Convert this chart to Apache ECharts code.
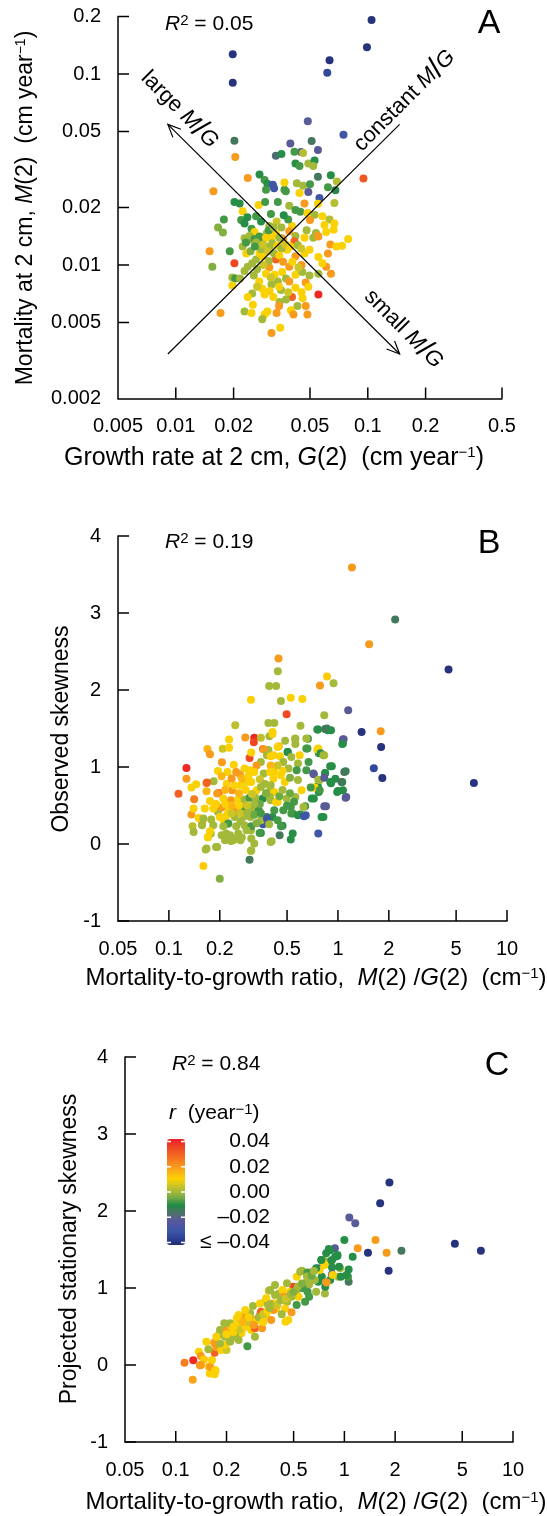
<!DOCTYPE html>
<html><head><meta charset="utf-8">
<script src="https://cdn.jsdelivr.net/npm/echarts@6.0.0/dist/echarts.min.js"></script>
<style>html,body{margin:0;padding:0;background:#fff}#chart{width:547px;height:1516px}</style>
</head><body><div id="chart"></div>
<script>
// ---------- DATA ----------
// Panel A: [G(2) growth rate, M(2) mortality, r]
const pointsA = [
[0.1046,0.192,-0.04],[0.099,0.138,-0.04],[0.0198,0.127,-0.04],[0.0198,0.090,-0.04],[0.0632,0.118,-0.04],
[0.0615,0.1016,-0.035],[0.0487,0.0565,-0.022],[0.0747,0.0481,-0.03],[0.0949,0.0284,0.032],
[0.0202,0.0447,-0.015],[0.0395,0.0433,-0.022],[0.0449,0.039,-0.022],[0.055,0.040,-0.022],[0.051,0.0446,-0.015],
[0.0332,0.0373,-0.018],[0.0355,0.0381,-0.01],[0.0415,0.0392,-0.008],[0.046,0.0386,0.002],[0.0204,0.0368,0.02],
[0.0237,0.0285,0.02],[0.0157,0.0243,0.02],[0.0273,0.0298,-0.01],[0.029,0.0279,-0.008],[0.030,0.0266,-0.01],
[0.032,0.0263,-0.03],[0.0325,0.0252,-0.03],[0.0295,0.0248,-0.008],[0.0368,0.0248,-0.008],[0.0374,0.0243,-0.008],
[0.042,0.034,-0.01],[0.0441,0.033,-0.008],[0.049,0.034,0.0],[0.0528,0.0352,-0.01],[0.052,0.033,0.0],
[0.0427,0.0268,0.0],[0.046,0.026,0.0],[0.050,0.0265,-0.008],[0.055,0.029,-0.015],[0.0642,0.0295,-0.01],
[0.069,0.0274,0.002],[0.062,0.0255,-0.008],[0.0678,0.0246,-0.012],[0.0368,0.027,0.01],[0.0441,0.0238,0.01],
[0.0468,0.021,0.02],[0.049,0.0241,-0.022],[0.056,0.0224,-0.03],[0.055,0.0209,0.01],[0.067,0.0211,0.002],
[0.027,0.0206,0.01],[0.0223,0.0191,0.01],[0.0202,0.0214,-0.01],[0.0215,0.021,-0.01],[0.0292,0.0214,-0.008],
[0.034,0.0214,-0.008],[0.039,0.0204,0.0],[0.042,0.0194,-0.008],[0.0445,0.019,-0.008],[0.0485,0.0187,0.01],
[0.0528,0.0183,0.0],[0.050,0.0172,0.02],[0.058,0.018,0.01],[0.0632,0.0173,0.002],[0.0595,0.0162,0.01],
[0.067,0.0165,0.01],[0.0178,0.0173,-0.008],[0.0166,0.0157,-0.003],[0.0176,0.0148,-0.003],[0.0219,0.0172,-0.008],
[0.0228,0.0165,-0.01],[0.0248,0.0155,-0.008],[0.0278,0.0169,-0.01],[0.0307,0.016,0.0],[0.0335,0.0169,0.005],
[0.0355,0.0157,0.0],[0.0403,0.016,0.01],[0.042,0.0142,0.0],[0.039,0.015,0.02],[0.048,0.0152,0.0],
[0.0537,0.0147,0.0],[0.0607,0.0149,0.01],[0.0664,0.0153,0.01],[0.0257,0.0149,0.01],[0.0298,0.0147,0.0],
[0.0332,0.0146,0.01],[0.0242,0.0142,0.0],[0.0273,0.0141,-0.008],[0.0358,0.0138,0.02],[0.055,0.0142,0.02],
[0.015,0.0118,0.02],[0.0191,0.0118,-0.008],[0.0155,0.0098,-0.003],[0.0202,0.0102,0.035],[0.0197,0.0086,0.0],
[0.0204,0.0085,-0.008],[0.0216,0.0085,0.0],[0.0197,0.0078,0.01],[0.0228,0.0093,0.0],[0.0237,0.0098,0.0],
[0.025,0.0102,0.0],[0.0262,0.0107,0.0],[0.0273,0.0115,0.01],[0.0284,0.0111,0.01],[0.0278,0.0121,0.0],
[0.0308,0.0125,0.0],[0.0223,0.0125,0.0],[0.0242,0.0135,0.0],[0.0257,0.0137,-0.008],[0.0273,0.0135,-0.008],
[0.0295,0.0139,0.01],[0.0233,0.0115,0.01],[0.0307,0.0097,0.02],[0.0332,0.0107,0.03],[0.0363,0.0135,0.02],
[0.0415,0.0133,0.03],[0.038,0.012,0.01],[0.042,0.0111,0.02],[0.0468,0.0115,0.01],[0.0497,0.012,0.01],
[0.0452,0.010,0.02],[0.039,0.0098,0.02],[0.0358,0.0092,0.01],[0.0327,0.0089,0.01],[0.0315,0.0079,0.0],
[0.034,0.0082,0.0],[0.0375,0.0085,0.0],[0.039,0.0082,0.02],[0.042,0.0089,0.01],[0.0456,0.0092,0.0],
[0.0497,0.0088,0.0],[0.0553,0.009,0.0],[0.0607,0.0098,0.02],[0.0643,0.009,0.02],[0.062,0.0115,0.02],
[0.0553,0.011,0.01],[0.058,0.0102,0.01],[0.0553,0.007,0.04],[0.0475,0.0081,0.02],[0.049,0.0077,0.01],
[0.042,0.0076,0.01],[0.0403,0.0068,0.03],[0.0452,0.0072,0.01],[0.0458,0.0067,0.01],[0.0375,0.0066,0.0],
[0.0347,0.0064,0.0],[0.0353,0.0074,0.0],[0.0322,0.0068,0.01],[0.029,0.007,0.01],[0.0282,0.0075,0.01],
[0.0308,0.0073,0.01],[0.025,0.0071,0.0],[0.0237,0.0068,0.01],[0.0252,0.0062,0.01],[0.0345,0.0061,0.02],
[0.043,0.0061,0.0],[0.0475,0.0061,0.02],[0.0228,0.0057,0.0],[0.0248,0.0056,0.01],[0.029,0.0055,0.01],
[0.030,0.0057,0.01],[0.0335,0.0056,0.02],[0.0398,0.0058,0.01],[0.041,0.0055,0.02],[0.0485,0.0055,0.02],
[0.0282,0.0052,0.0],[0.0171,0.0056,0.02],[0.035,0.0047,0.01],[0.0315,0.0044,0.02],[0.079,0.0137,0.01],
[0.0735,0.0126,0.01],[0.0228,0.0138,0.0],[0.0316,0.014,0.01],[0.0346,0.0139,0.0],[0.0468,0.0139,0.01],
[0.052,0.0139,0.0],[0.0553,0.0141,0.02],[0.0638,0.0128,0.02],[0.0686,0.0125,0.01],
[0.0262,0.0131,0.0],[0.0285,0.0128,0.005],[0.0318,0.0130,0.0],[0.0338,0.0126,0.01],[0.0355,0.0122,0.0],
[0.0372,0.0128,0.005],[0.0395,0.0125,0.01],[0.0432,0.0127,0.0],[0.045,0.0122,0.005],[0.0302,0.0118,0.005],
[0.0325,0.0115,0.0],[0.0346,0.0112,0.01],[0.0305,0.0105,0.0],[0.0285,0.0100,0.005],[0.0265,0.0095,0.0],
[0.0295,0.0090,0.01],[0.0312,0.0086,0.005],[0.0362,0.0104,0.02],[0.0405,0.0104,0.01],[0.0435,0.0097,0.005],
[0.0255,0.0088,0.0],[0.0272,0.0082,0.01],[0.0345,0.0077,0.01],[0.0385,0.0072,0.005],[0.0265,0.0077,0.005],
[0.0245,0.0118,-0.003],[0.0258,0.0125,-0.008],[0.0232,0.0131,-0.008],[0.0305,0.0152,-0.008],[0.0323,0.0157,0.0],
[0.0385,0.0173,-0.008],[0.0365,0.0182,-0.01],[0.0313,0.0185,-0.008],[0.0262,0.0180,-0.008],[0.0236,0.0178,-0.01]
];
// Panel B: [M(2)/G(2), observed skewness, r]
const pointsB = [
[1.21,3.59,0.02],[2.18,2.914,-0.015],[1.53,2.594,0.02],[4.51,2.265,-0.04],[6.37,0.792,-0.04],
[0.445,2.41,0.02],[0.441,2.243,0.0],[0.392,2.052,0.0],[0.431,2.052,0.0],[0.46,1.857,0.0],
[0.306,1.875,0.01],[0.526,1.90,0.01],[0.616,1.883,0.01],[0.783,2.057,0.02],[0.862,2.174,0.012],
[0.942,2.087,0.0],[0.497,1.684,0.035],[1.15,1.736,-0.022],[0.83,1.671,0.0],[0.60,1.537,0.0],
[0.388,1.571,0.0],[0.42,1.571,0.0],[0.247,1.541,0.003],[1.38,1.455,-0.04],[1.79,1.464,0.02],
[1.8,1.26,-0.04],[1.63,0.983,-0.035],[1.83,0.857,-0.04],[1.08,1.36,-0.022],[1.07,1.304,-0.01],
[0.762,1.486,-0.01],[0.84,1.494,-0.015],[0.87,1.477,-0.01],[1.11,0.944,-0.012],[1.12,0.61,-0.022],
[0.83,0.49,-0.022],[0.765,0.135,-0.03],[0.80,0.35,-0.01],[0.99,0.675,-0.01],[1.06,0.805,-0.01],
[0.9,1.01,-0.01],[0.452,0.113,-0.015],[0.526,0.057,-0.01],[0.54,0.135,-0.01],[0.405,0.035,0.0],
[0.35,0.143,-0.01],[0.30,-0.203,-0.015],[0.20,-0.45,-0.003],[0.16,-0.286,0.012],[0.165,-0.073,0.0],
[0.193,-0.04,0.0],[0.306,-0.09,0.003],[0.17,0.083,0.01],[0.114,0.654,0.03],[0.127,0.987,0.04],
[0.127,0.849,0.02],[0.136,0.733,0.01],[0.145,0.775,0.01],[0.141,0.58,0.025],[0.136,0.382,0.02],
[0.138,0.23,0.003],[0.14,0.156,0.0],[0.14,0.46,0.01],[0.159,0.317,0.01],[0.157,0.265,0.02],
[0.169,1.234,0.015],[0.175,1.165,0.02],[0.167,0.792,0.025],[0.167,0.684,0.015],[0.184,0.814,0.0],
[0.208,1.238,0.005],[0.227,1.25,0.01],[0.227,1.356,0.01],[0.206,1.061,0.02],[0.195,0.948,0.01],
[0.197,0.662,0.03],[0.283,1.382,0.02],[0.32,1.38,0.04],[0.318,1.32,0.035],[0.30,1.117,0.035],
[0.36,1.234,0.025],[0.447,1.27,0.015],[0.35,1.38,0.003],[0.41,1.455,0.01],[0.393,1.40,0.0],
[0.388,1.22,0.0],[0.487,1.34,0.0],[0.558,1.363,0.0],[0.665,1.368,-0.008],[0.503,1.195,-0.01],
[0.66,1.24,-0.008],[0.765,1.24,0.01],[0.77,1.18,-0.008],[0.83,1.152,0.003],[0.84,0.922,-0.008],
[0.72,0.905,-0.022],[0.91,0.79,-0.01],[0.76,0.75,-0.01],[0.77,0.675,-0.01],[0.71,0.733,0.01],
[0.78,0.83,0.0],[0.72,0.59,-0.01],[0.64,0.49,-0.008],[0.645,0.373,-0.03],[0.60,0.386,-0.008],
[0.54,0.395,-0.008],[0.526,0.48,-0.008],[0.47,0.238,-0.01],[0.41,0.35,-0.01],[0.36,0.256,-0.03],
[0.306,0.178,0.0],[0.32,0.005,0.0],[0.265,0.048,0.0],[0.233,0.039,0.0],[0.25,0.07,0.0],
[0.218,0.135,0.0],[0.225,0.265,0.0],[0.177,0.135,0.0],[0.195,0.416,0.0],[0.21,0.317,0.01],
[0.307,1.187,0.01],[0.364,1.226,0.02],[0.38,1.152,0.0],[0.415,1.152,0.01],[0.35,1.065,0.0],
[0.40,1.02,0.015],[0.168,0.80,0.03],[0.222,0.935,0.01],[0.242,1.03,0.01],[0.25,0.935,0.02],
[0.263,0.905,0.02],[0.28,0.98,0.01],[0.301,0.957,0.01],[0.33,1.02,0.02],[0.32,0.935,0.01],
[0.364,0.914,0.0],[0.396,0.935,0.01],[0.415,0.849,0.01],[0.22,0.784,0.01],[0.237,0.697,0.02],
[0.267,0.762,0.01],[0.29,0.805,0.01],[0.307,0.805,0.01],[0.33,0.697,0.01],[0.35,0.74,0.0],
[0.39,0.675,0.0],[0.42,0.675,0.01],[0.175,0.558,0.01],[0.193,0.655,0.02],[0.21,0.59,0.01],
[0.233,0.568,0.02],[0.257,0.577,0.01],[0.28,0.577,0.0],[0.30,0.602,-0.008],[0.325,0.602,0.0],
[0.36,0.59,-0.01],[0.40,0.568,0.0],[0.43,0.545,0.01],[0.163,0.46,0.01],[0.183,0.46,0.01],
[0.205,0.473,0.02],[0.226,0.437,0.01],[0.248,0.446,0.02],[0.275,0.473,-0.008],[0.307,0.46,0.0],
[0.34,0.437,-0.008],[0.15,0.338,0.01],[0.16,0.33,0.0],[0.178,0.317,0.0],[0.20,0.35,0.01],
[0.22,0.373,0.01],[0.245,0.35,0.0],[0.275,0.35,0.0],[0.304,0.35,0.0],[0.38,0.35,-0.015],
[0.35,0.308,0.0],[0.157,0.243,0.0],[0.183,0.243,0.0],[0.224,0.265,-0.008],[0.25,0.23,0.0],
[0.28,0.243,0.0],[0.307,0.23,-0.008],[0.175,0.165,0.01],[0.205,0.113,0.0],[0.23,0.113,0.0],
[0.257,0.135,0.0],[0.288,0.178,0.0],[0.344,0.143,-0.008],[0.17,0.09,0.01],[0.215,0.048,0.0],
[0.24,0.048,0.0],[0.27,0.083,0.0],[0.307,0.07,0.0],[0.40,0.026,0.0],[0.167,-0.06,0.0],
[0.19,-0.04,0.0],[0.307,-0.08,0.0],[0.755,1.486,-0.01],[0.86,1.50,-0.015],[0.91,1.477,-0.01],
[1.07,1.356,-0.022],[1.06,1.30,-0.01],[0.41,1.43,0.01],[0.56,1.37,0.0],[0.65,1.37,0.0],
[0.56,1.30,0.0],[0.755,1.226,0.01],[0.79,1.18,-0.01],[0.82,1.152,0.0],[0.65,1.24,-0.008],
[0.505,1.195,-0.01],[0.44,1.26,0.01],[0.594,1.152,0.01],[0.53,1.13,0.0],[0.454,1.14,0.01],
[0.40,1.14,0.01],[0.475,1.065,0.0],[0.58,1.044,0.0],[0.67,1.065,-0.008],[0.92,1.01,-0.01],
[1.09,0.935,-0.015],[0.42,0.935,0.01],[0.46,0.892,0.01],[0.51,0.98,0.0],[0.57,0.957,-0.008],
[0.65,0.957,-0.008],[0.715,0.914,-0.022],[0.765,0.836,0.0],[0.84,0.922,-0.01],[0.83,0.862,-0.022],
[0.90,0.805,-0.01],[0.965,0.849,-0.01],[1.05,0.805,-0.015],[1.0,0.688,-0.01],[1.07,0.697,-0.01],
[1.11,0.60,-0.022],[0.73,0.733,0.01],[0.69,0.733,-0.008],[0.61,0.697,0.01],[0.58,0.83,0.0],
[0.485,0.805,0.01],[0.40,0.762,0.0],[0.396,0.61,0.0],[0.44,0.545,0.01],[0.497,0.59,0.0],
[0.56,0.61,0.0],[0.625,0.48,0.0],[0.70,0.59,-0.01],[0.78,0.697,-0.008],[0.85,0.49,-0.022],
[0.42,0.437,-0.008],[0.475,0.437,-0.008],[0.53,0.395,-0.008],[0.58,0.373,-0.01],[0.63,0.36,-0.03],
[0.82,0.35,-0.01],[0.38,0.33,-0.03],[0.44,0.308,-0.008],[0.392,0.256,0.0],[0.46,0.23,-0.008],
[0.215,0.70,0.015],[0.245,0.76,0.01],[0.26,0.66,0.015],[0.285,0.70,0.01],[0.31,0.65,0.005],
[0.27,0.85,0.015],[0.295,0.88,0.01],[0.235,0.85,0.02],[0.205,0.88,0.015],[0.345,0.84,0.005],
[0.37,0.78,0.0],[0.375,0.66,-0.003],[0.345,0.52,-0.005],[0.32,0.52,0.0],[0.29,0.50,0.005],
[0.26,0.50,0.01],[0.235,0.50,0.015],[0.215,0.52,0.01],[0.19,0.52,0.01],[0.265,0.40,0.005],
[0.29,0.40,0.0],[0.32,0.38,-0.005],[0.35,0.40,-0.008],[0.235,0.40,0.005],[0.21,0.23,0.0],
[0.265,0.29,0.0],[0.33,0.27,-0.003],[0.45,0.62,-0.005],[0.47,0.70,0.0],[0.52,0.66,-0.005],
[0.55,0.55,-0.008],[0.50,0.50,-0.008],[0.47,0.95,0.01],[0.44,1.02,0.005],[0.52,0.86,-0.003]
];
// Panel C: [M(2)/G(2), projected stationary skewness, r]
const pointsC = [
[1.85,2.37,-0.04],[1.63,2.10,-0.04],[1.07,1.914,-0.022],[1.16,1.84,-0.022],[1.0,1.624,-0.01],
[1.53,1.624,0.02],[1.2,1.515,0.02],[1.38,1.459,-0.04],[1.78,1.459,0.02],[2.18,1.485,-0.015],
[1.83,1.225,-0.04],[4.52,1.576,-0.04],[6.45,1.485,-0.04],[0.878,1.515,-0.022],[0.824,1.49,-0.01],
[1.12,1.407,-0.01],[0.908,1.415,-0.01],[1.06,1.24,-0.01],[1.06,1.08,-0.015],[1.05,1.147,-0.008],
[0.767,0.93,0.0],[0.266,0.245,-0.008],[0.126,-0.19,0.018],[0.1127,0.028,0.025],[0.127,0.063,0.04],
[0.139,-0.0025,0.02],[0.157,-0.024,0.01],[0.172,-0.076,0.01],[0.159,-0.11,0.01],[0.17,-0.12,0.01],
[0.448,0.561,0.01],[0.498,1.016,0.035],[0.522,1.147,0.01],
[0.137,0.172,0.01],[0.141,0.116,0.02],[0.147,0.072,0.012],[0.141,0.0,0.02],[0.16,-0.023,0.02],
[0.164,0.064,0.01],[0.171,-0.066,0.01],[0.152,0.302,0.01],[0.169,0.289,0.02],[0.17,0.159,0.03],
[0.174,0.229,0.02],[0.186,0.194,0.01],[0.2,0.194,0.005],[0.196,0.259,0.01],[0.183,0.28,0.0],
[0.21,0.302,0.0],[0.196,0.367,0.0],[0.18,0.389,0.0],[0.214,0.346,0.0],[0.183,0.454,0.0],
[0.2,0.454,0.02],[0.194,0.541,0.0],[0.214,0.497,0.01],[0.233,0.519,0.01],[0.245,0.411,0.01],
[0.225,0.389,0.0],[0.255,0.627,0.02],[0.23,0.606,0.01],[0.263,0.541,0.01],[0.28,0.454,0.01],
[0.287,0.584,0.02],[0.295,0.476,0.03],[0.276,0.671,0.0],[0.295,0.367,0.0],[0.325,0.476,0.02],
[0.316,0.649,0.03],[0.32,0.692,0.03],[0.344,0.627,0.01],[0.368,0.584,0.02],[0.374,0.80,0.02],
[0.395,0.735,0.01],[0.353,0.779,0.0],[0.339,0.822,0.0],[0.388,1.04,0.0],[0.356,0.965,0.005],
[0.41,0.93,0.0],[0.287,0.766,0.0],[0.258,0.714,0.01],[0.236,0.649,0.01],[0.21,0.541,0.0],
[0.174,0.367,0.01],[0.156,0.203,0.0],[0.25,0.476,0.01],[0.236,0.324,0.0],
[0.808,1.507,-0.01],[0.78,1.45,-0.01],[0.91,1.43,-0.01],[0.882,1.407,-0.01],[0.73,1.364,-0.01],
[0.765,1.35,0.0],[0.834,1.35,-0.01],[0.703,1.256,-0.022],[0.765,1.30,0.01],[0.845,1.266,-0.01],
[0.944,1.256,0.0],[1.03,1.17,-0.01],[0.845,1.178,-0.022],[0.92,1.147,0.0],[0.735,1.147,-0.01],
[0.78,1.074,0.02],[0.824,1.104,-0.01],[0.70,1.082,-0.01],[0.77,1.017,-0.01],[0.646,1.212,0.0],
[0.667,1.104,0.0],[0.618,1.047,0.0],[0.68,0.952,0.0],[0.605,0.952,-0.008],[0.605,1.104,0.0],
[0.547,1.212,0.0],[0.457,1.061,0.0],[0.43,0.974,0.01],[0.477,0.952,0.01],[0.521,0.974,0.0],
[0.566,0.996,-0.008],[0.618,0.887,-0.008],[0.535,0.887,0.01],[0.486,0.887,0.0],[0.442,0.887,0.02],
[0.388,0.909,0.0],[0.363,0.974,0.0],[0.344,0.866,0.01],[0.388,0.80,0.01],[0.457,0.822,0.0],
[0.521,0.779,-0.008],[0.585,0.822,-0.008],[0.316,0.80,0.01],[0.363,0.788,0.0],[0.38,0.714,0.02],
[0.445,0.735,0.01],[0.425,0.658,0.0],[0.486,0.684,0.02],[0.465,0.584,0.01],
[0.714,1.233,0.01],[0.76,1.307,0.01],[0.853,1.168,0.01],[0.786,1.07,0.02],[0.68,1.255,-0.01],
[0.845,1.363,-0.01],[0.73,1.363,-0.01],[0.93,1.277,-0.01],[0.953,1.147,-0.01],[0.56,1.225,0.0],
[0.603,1.2,-0.008],
[0.22,0.43,0.01],[0.24,0.46,0.005],[0.26,0.50,0.01],[0.27,0.56,0.005],[0.30,0.57,0.01],
[0.31,0.62,0.0],[0.33,0.66,0.005],[0.35,0.70,0.01],[0.36,0.74,0.0],[0.40,0.78,0.005],
[0.42,0.84,0.0],[0.45,0.86,0.005],[0.48,0.92,0.0],[0.50,0.95,-0.003],[0.53,1.02,0.0],
[0.56,1.06,-0.003],[0.60,1.15,0.0],[0.64,1.16,-0.005],[0.66,1.22,0.0],[0.27,0.62,0.01],
[0.29,0.52,0.02],[0.33,0.56,0.01],[0.25,0.56,0.015],[0.22,0.50,0.01],[0.2,0.40,0.01]
];
const xTicksA = [0.005,0.01,0.02,0.05,0.1,0.2,0.5];
const yTicksA = [0.002,0.005,0.01,0.02,0.05,0.1,0.2];
const xTicksBC = [0.05,0.1,0.2,0.5,1,2,5,10];
// guide lines in panel A: [x1,y1,x2,y2,arrows]
const guideLines = [[0.00909,0.00342,0.1465,0.0545,0],[0.00909,0.0545,0.1465,0.00342,1]];
const rLegendValues = [0.04,0.02,0,-0.02,-0.04];
const rLegendLabels = ['0.04','0.02','0.00','\u20130.02','\u2264 \u20130.04'];
const rColors = ['#232a6e','#2d4294','#3a56a6','#4d55a5','#5a5d92','#4a7560','#1f8b47','#6aa843','#a3b93a',
                 '#cfc624','#ffd200','#fbb117','#f7941d','#f47420','#f15a22','#ef3d24','#ed1c24'];

// ---------- CHART ----------
const FONT = "'Liberation Sans', Arial, Helvetica, sans-serif";
const TICK = 11;
const TICKFONT = 20;
const fmt = v => String(parseFloat(Number(v).toPrecision(6)));
const grids = [
  {left:118, top:16.5, width:384, height:382},
  {left:118, top:536, width:389, height:385},
  {left:125, top:1057, width:388, height:385}
];
const lineStyle = {color:'#000', width:1.5};
function logAxis(gi, min, max){
  return {type:'log', logBase:10, gridIndex:gi, min, max,
    axisLine:{show:true, onZero:false, lineStyle}, axisTick:{show:false}, axisLabel:{show:false},
    splitLine:{show:false}, minorTick:{show:false}, minorSplitLine:{show:false}};
}
function valAxis(gi){
  return {type:'value', gridIndex:gi, min:-1, max:4, interval:1,
    axisLine:{show:true, onZero:false, lineStyle},
    axisTick:{show:true, inside:true, length:TICK, lineStyle},
    axisLabel:{show:true, margin:17, fontSize:TICKFONT, fontFamily:FONT, color:'#000'},
    splitLine:{show:false}};
}
function tickSeries(ai, values, orient, cross){
  return {type:'custom', xAxisIndex:ai, yAxisIndex:ai, silent:true, clip:false, z:5,
    data: values.map((v,i) => orient==='x' ? [v, cross, i] : [cross, v, i]),
    renderItem:(params, api) => {
      const xv = api.value(0), yv = api.value(1), i = api.value(2);
      const p = api.coord([xv, yv]);
      const v = orient==='x' ? xv : yv;
      const ch = [];
      if (i !== 0) ch.push({type:'line', shape: orient==='x'
          ? {x1:p[0], y1:p[1], x2:p[0], y2:p[1]-TICK} : {x1:p[0], y1:p[1], x2:p[0]+TICK, y2:p[1]},
          style:{stroke:'#000', lineWidth:1.5}});
      ch.push({type:'text', x: orient==='x' ? p[0] : p[0]-17, y: orient==='x' ? p[1]+28 : p[1],
        style:{text:fmt(v), fill:'#000', fontSize:TICKFONT, fontFamily:FONT,
               align: orient==='x' ? 'center' : 'right', verticalAlign:'middle'}});
      return {type:'group', children:ch};
    }};
}
const scatterBase = {type:'scatter', symbol:'circle', symbolSize:8, silent:true, z:2, itemStyle:{opacity:1}};

function richOf(size, supSize){
  return {
    n:{fontSize:size, fontFamily:FONT, fill:'#000'},
    i:{fontSize:size, fontFamily:FONT, fontStyle:'italic', fill:'#000'},
    sup:{fontSize:supSize, fontFamily:FONT, verticalAlign:'top', fill:'#000'},
    s:{fontSize:Math.round(size*1.35), fontFamily:FONT, fill:'#000'}
  };
}
const richY = richOf(23, 14), richX = richOf(24, 15), richXA = richOf(25, 15),
      richSmall = richOf(21, 15), richGuide = richOf(22, 14);
function rt(x, y, text, rich, align, rot){
  return {type:'text', x, y, rotation: rot||0, z:50,
    style:{text, rich, align: align||'center', verticalAlign:'middle', fill:'#000', fontFamily:FONT}};
}
function letter(x, y, t){
  return {type:'text', x, y, z:50, style:{text:t, fontSize:34, fontFamily:FONT, fill:'#000', align:'center', verticalAlign:'middle'}};
}
const graphics = [
  rt(25.6, 208, '{n|Mortality at 2 cm, }{i|M}{n|(2)  (cm year}{sup|\u22121}{n|)}', richY, 'center', Math.PI/2),
  rt(274, 458, '{n|Growth rate at 2 cm, }{i|G}{n|(2)  (cm year}{sup|\u22121}{n|)}', richXA, 'center'),
  rt(61.5, 729, '{n|Observed skewness}', richY, 'center', Math.PI/2),
  rt(316, 978, '{n|Mortality-to-growth ratio,  }{i|M}{n|(2) /}{i|G}{n|(2)  (cm}{sup|\u22121}{n|)}', richX, 'center'),
  rt(69.5, 1249, '{n|Projected stationary skewness}', richY, 'center', Math.PI/2),
  rt(316, 1502, '{n|Mortality-to-growth ratio,  }{i|M}{n|(2) /}{i|G}{n|(2)  (cm}{sup|\u22121}{n|)}', richX, 'center'),
  rt(165, 24, '{i|R}{sup|2}{n| = 0.05}', richSmall, 'left'),
  rt(165, 542, '{i|R}{sup|2}{n| = 0.19}', richSmall, 'left'),
  rt(172, 1064, '{i|R}{sup|2}{n| = 0.84}', richSmall, 'left'),
  letter(489, 24, 'A'), letter(489, 544, 'B'), letter(497, 1066, 'C'),
  rt(179.5, 109.5, '{n|large }{i|M}{s|/}{i|G}', richGuide, 'center', -Math.PI/4),
  rt(404.4, 100.8, '{n|constant }{i|M}{s|/}{i|G}', richGuide, 'center', Math.PI/4),
  rt(403.5, 329, '{n|small }{i|M}{s|/}{i|G}', richGuide, 'center', -Math.PI/4),
  rt(169, 1113, '{i|r}{n|  (year}{sup|\u22121}{n|)}', richSmall, 'left')
];
// legend labels and notches
const barTop = 1139, barH = 106, barL = 167, barW = 18, vmMin = -0.042, vmMax = 0.042;
rLegendValues.forEach((v, k) => {
  const y = barTop + (vmMax - v) / (vmMax - vmMin) * barH;
  graphics.push({type:'text', x:270, y, z:50, style:{text:rLegendLabels[k], fontSize:21, fontFamily:FONT, fill:'#000', align:'right', verticalAlign:'middle'}});
  graphics.push({type:'rect', z:60, shape:{x:barL, y:y-0.75, width:4, height:1.5}, style:{fill:'#fff'}});
  graphics.push({type:'rect', z:60, shape:{x:barL+barW-4, y:y-0.75, width:4, height:1.5}, style:{fill:'#fff'}});
});

const option = {
  animation:false,
  backgroundColor:'#fff',
  grid: grids,
  xAxis: [logAxis(0, 0.005, 0.5), logAxis(1, 0.05, 10), logAxis(2, 0.05, 10)],
  yAxis: [logAxis(0, 0.002, 0.2), valAxis(1), valAxis(2)],
  visualMap: {type:'continuous', min:vmMin, max:vmMax, dimension:2, seriesIndex:[0,1,2],
    inRange:{color:rColors}, calculable:false, show:true, orient:'vertical',
    left:barL, top:barTop, itemWidth:barW, itemHeight:barH, text:null, padding:0, hoverLink:false},
  series: [
    Object.assign({}, scatterBase, {xAxisIndex:0, yAxisIndex:0, data:pointsA}),
    Object.assign({}, scatterBase, {xAxisIndex:1, yAxisIndex:1, data:pointsB}),
    Object.assign({}, scatterBase, {xAxisIndex:2, yAxisIndex:2, data:pointsC}),
    tickSeries(0, xTicksA, 'x', 0.002),
    tickSeries(0, yTicksA, 'y', 0.005),
    tickSeries(1, xTicksBC, 'x', -1),
    tickSeries(2, xTicksBC, 'x', -1),
    {type:'custom', xAxisIndex:0, yAxisIndex:0, silent:true, clip:false, z:3, data:guideLines,
     renderItem:(params, api) => {
       const a = api.coord([api.value(0), api.value(1)]);
       const b = api.coord([api.value(2), api.value(3)]);
       const ch = [{type:'line', shape:{x1:a[0], y1:a[1], x2:b[0], y2:b[1]}, style:{stroke:'#000', lineWidth:1.2}}];
       if (api.value(4) === 1) {
         [[a,b],[b,a]].forEach(([tip, from]) => {
           const ang = Math.atan2(from[1]-tip[1], from[0]-tip[0]), L = 14, s = 0.42;
           ch.push({type:'polyline', shape:{points:[[tip[0]+L*Math.cos(ang+s), tip[1]+L*Math.sin(ang+s)], [tip[0], tip[1]],
             [tip[0]+L*Math.cos(ang-s), tip[1]+L*Math.sin(ang-s)]]}, style:{stroke:'#000', fill:null, lineWidth:1.2}});
         });
       }
       return {type:'group', children:ch};
     }}
  ],
  graphic: graphics
};
const chart = echarts.init(document.getElementById('chart'), null, {renderer:'canvas'});
chart.setOption(option);
</script>
</body></html>
